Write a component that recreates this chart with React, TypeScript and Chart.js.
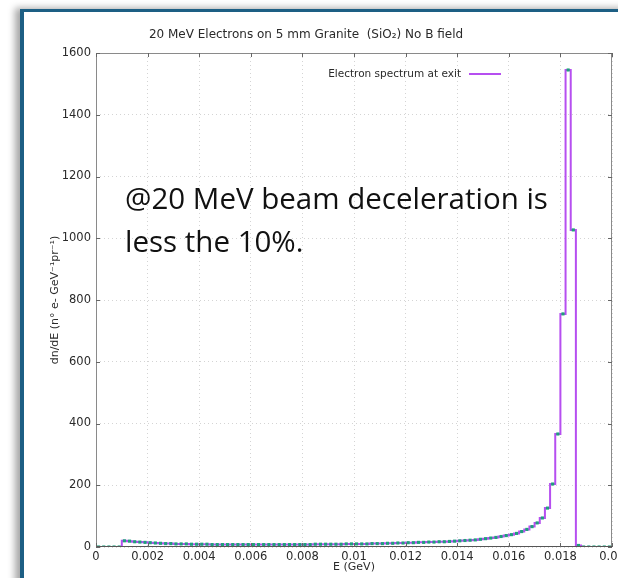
import React, { useEffect, useRef } from 'react';
import { Chart, registerables } from 'chart.js';

Chart.register(...registerables);

// ---- data ----
const chartTitle = '20 MeV Electrons on 5 mm Granite  (SiO\u2082) No B field';
const xAxisTitle = 'E (GeV)';
const yAxisTitle = 'dn/dE (n\u00b0 e- GeV\u207b\u00b9pr\u207b\u00b9)';
const legendLabel = 'Electron spectrum at exit';
const noteLines = ['@20 MeV beam deceleration is', 'less the 10%.'];

const binStart = 0;
const binWidth = 0.0002;
// counts per 0.0002 GeV bin, 0 .. 0.02 GeV
const counts = [
  0, 0, 0, 0, 0, 20, 19, 17, 16, 15,
  14, 13, 12, 11, 11, 10, 10, 10, 9, 9,
  9, 9, 8, 8, 8, 8, 8, 8, 8, 8,
  8, 8, 8, 8, 8, 8, 8, 8, 8, 8,
  8, 8, 9, 9, 9, 9, 9, 9, 10, 10,
  10, 10, 10, 11, 11, 11, 12, 12, 13, 13,
  14, 14, 15, 15, 16, 16, 17, 17, 18, 19,
  20, 21, 22, 23, 25, 27, 29, 31, 34, 37,
  40, 44, 50, 57, 66, 78, 94, 126, 204, 366,
  755, 1545, 1027, 5, 0, 0, 0, 0, 0, 0,
];

const xMin = 0;
const xMax = 0.02;
const xStep = 0.002;
const yMin = 0;
const yMax = 1600;
const yStep = 200;

const FONT = '"DejaVu Sans", sans-serif';
const TEXT = '#2a2a2a';
const MAGENTA = '#b64ff0';
const GREEN = '#20a07c';

const stepPoints = counts.map((v, i) => ({ x: binStart + i * binWidth, y: v }));
stepPoints.push({ x: binStart + counts.length * binWidth, y: counts[counts.length - 1] });
const centerPoints = counts.map((v, i) => ({ x: binStart + (i + 0.5) * binWidth, y: v }));

const framePlugin = {
  id: 'framePlugin',
  afterDraw(chart: any) {
    const { ctx, chartArea } = chart;
    const { left, right, top, bottom } = chartArea;
    const xs = chart.scales.x;
    const ys = chart.scales.y;
    ctx.save();
    // box
    ctx.strokeStyle = '#8a8a8a';
    ctx.lineWidth = 1;
    ctx.strokeRect(left + 0.5, top + 0.5, right - left - 1, bottom - top - 1);
    ctx.strokeStyle = '#555';
    ctx.beginPath();
    ctx.moveTo(left, bottom - 0.5);
    ctx.lineTo(right, bottom - 0.5);
    ctx.stroke();
    // inward ticks
    ctx.strokeStyle = '#666';
    const tl = 4;
    xs.ticks.forEach((t: any) => {
      const px = Math.round(xs.getPixelForValue(t.value)) + 0.5;
      ctx.beginPath();
      ctx.moveTo(px, bottom);
      ctx.lineTo(px, bottom - tl);
      ctx.moveTo(px, top);
      ctx.lineTo(px, top + tl);
      ctx.stroke();
    });
    ys.ticks.forEach((t: any) => {
      const py = Math.round(ys.getPixelForValue(t.value)) + 0.5;
      ctx.beginPath();
      ctx.moveTo(left, py);
      ctx.lineTo(left + tl, py);
      ctx.moveTo(right, py);
      ctx.lineTo(right - tl, py);
      ctx.stroke();
    });
    // legend
    ctx.font = `10.5px ${FONT}`;
    ctx.fillStyle = TEXT;
    ctx.textAlign = 'right';
    ctx.textBaseline = 'middle';
    ctx.fillText(legendLabel, 461, 74);
    ctx.strokeStyle = MAGENTA;
    ctx.lineWidth = 2;
    ctx.beginPath();
    ctx.moveTo(469, 74);
    ctx.lineTo(501, 74);
    ctx.stroke();
    // annotation
    const family = '"Open Sans", sans-serif';
    ctx.font = `100px ${family}`;
    const w = ctx.measureText(noteLines[0]).width;
    const size = (100 * 423) / w;
    ctx.font = `${size}px ${family}`;
    ctx.fillStyle = '#111111';
    ctx.textAlign = 'left';
    ctx.textBaseline = 'alphabetic';
    ctx.fillText(noteLines[0], 125, 209);
    ctx.fillText(noteLines[1], 125, 252);
    ctx.restore();
  },
};

export default function App() {
  const ref = useRef<HTMLCanvasElement | null>(null);

  useEffect(() => {
    if (!ref.current) return;
    const chart = new Chart(ref.current, {
      type: 'line',
      data: {
        datasets: [
          {
            label: 'points',
            data: centerPoints,
            showLine: false,
            pointStyle: 'rect',
            pointRadius: 2.2,
            pointBorderWidth: 0,
            pointBackgroundColor: GREEN,
            pointBorderColor: GREEN,
            order: 0,
          },
          {
            label: legendLabel,
            data: stepPoints,
            stepped: true,
            borderColor: MAGENTA,
            borderWidth: 2,
            pointRadius: 0,
            fill: false,
            order: 1,
          },
        ],
      },
      options: {
        animation: false,
        responsive: false,
        layout: { padding: { left: 0, right: 6, top: 0, bottom: 0 }, autoPadding: false },
        plugins: {
          legend: { display: false },
          tooltip: { enabled: false },
          title: {
            display: true,
            text: chartTitle,
            color: TEXT,
            font: { family: FONT, size: 12, weight: 'normal' },
            padding: { top: 28, bottom: 10.6 },
          },
        },
        scales: {
          x: {
            type: 'linear',
            min: xMin,
            max: xMax,
            afterFit: (s: any) => {
              s.height = 31;
              s.paddingLeft = 0;
              s.paddingRight = 0;
            },
            ticks: {
              stepSize: xStep,
              autoSkip: false,
              maxRotation: 0,
              padding: 3,
              color: TEXT,
              font: { family: FONT, size: 11.5 },
              callback: (v: any) => String(Number(Number(v).toFixed(4))),
            },
            grid: { color: '#d4d4d4', drawTicks: false, lineWidth: 1 },
            border: { display: false, dash: [1, 3] },
            title: {
              display: true,
              text: xAxisTitle,
              color: TEXT,
              font: { family: FONT, size: 11 },
              padding: { top: 0, bottom: 4 },
            },
          },
          y: {
            type: 'linear',
            min: yMin,
            max: yMax,
            afterFit: (s: any) => {
              s.width = 96;
              s.paddingTop = 0;
              s.paddingBottom = 0;
            },
            ticks: {
              stepSize: yStep,
              padding: 5,
              color: TEXT,
              font: { family: FONT, size: 11.5 },
              callback: (v: any) => String(v),
            },
            grid: { color: '#d4d4d4', drawTicks: false, lineWidth: 1 },
            border: { display: false, dash: [1, 3] },
            title: {
              display: true,
              text: yAxisTitle,
              color: TEXT,
              font: { family: FONT, size: 11 },
              padding: { top: 49, bottom: 0 },
            },
          },
        },
      },
      plugins: [framePlugin],
    } as any);
    return () => chart.destroy();
  }, []);

  return (
    <div
      style={{
        position: 'fixed',
        left: 0,
        top: 0,
        width: 618,
        height: 578,
        background: '#ffffff',
        overflow: 'hidden',
      }}
    >
      <div
        style={{
          position: 'absolute',
          left: 20,
          top: 9,
          width: 700,
          height: 700,
          borderTop: '3px solid #1d5f84',
          borderLeft: '4px solid #1d5f84',
          boxShadow: '-5px -1px 7px rgba(0,0,0,0.35)',
          background: '#ffffff',
        }}
      />
      <canvas ref={ref} width={618} height={578} style={{ position: 'absolute', left: 0, top: 0 }} />
    </div>
  );
}
